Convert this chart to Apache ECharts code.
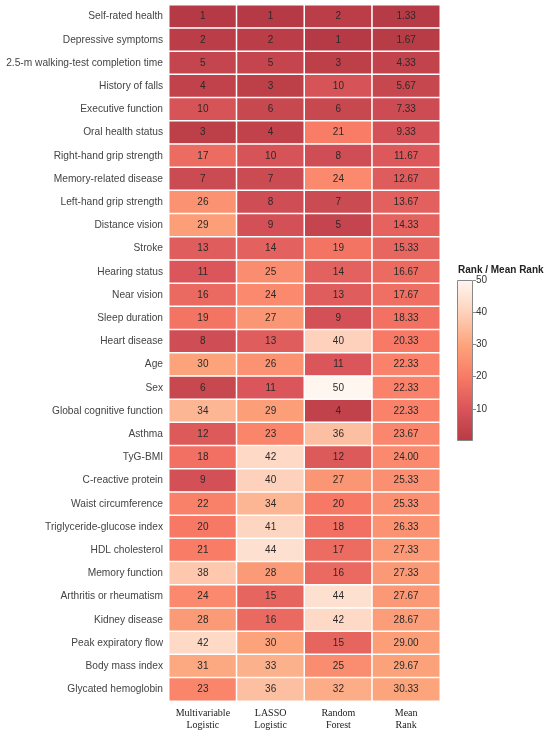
<!DOCTYPE html>
<html>
<head>
<meta charset="utf-8">
<script src="https://cdn.jsdelivr.net/npm/echarts@6/dist/echarts.min.js"></script>
<style>
  html, body { margin: 0; padding: 0; background: #fff; }
  #chart { width: 550px; height: 735px; }
</style>
</head>
<body>
<div id="chart"></div>
<script>
// predictors, top to bottom
const predictors = [
  'Self-rated health', 'Depressive symptoms', '2.5-m walking-test completion time',
  'History of falls', 'Executive function', 'Oral health status',
  'Right-hand grip strength', 'Memory-related disease', 'Left-hand grip strength',
  'Distance vision', 'Stroke', 'Hearing status', 'Near vision', 'Sleep duration',
  'Heart disease', 'Age', 'Sex', 'Global cognitive function', 'Asthma', 'TyG-BMI',
  'C-reactive protein', 'Waist circumference', 'Triglyceride-glucose index',
  'HDL cholesterol', 'Memory function', 'Arthritis or rheumatism', 'Kidney disease',
  'Peak expiratory flow', 'Body mass index', 'Glycated hemoglobin'
];
const methods = ['Multivariable\nLogistic', 'LASSO\nLogistic', 'Random\nForest', 'Mean\nRank'];

const multivariableRank = [1, 2, 5, 4, 10, 3, 17, 7, 26, 29, 13, 11, 16, 19, 8, 30, 6, 34, 12, 18, 9, 22, 20, 21, 38, 24, 28, 42, 31, 23];
const lassoRank = [1, 2, 5, 3, 6, 4, 10, 7, 8, 9, 14, 25, 24, 27, 13, 26, 11, 29, 23, 42, 40, 34, 41, 44, 28, 15, 16, 30, 33, 36];
const forestRank = [2, 1, 3, 10, 6, 21, 8, 24, 7, 5, 19, 14, 13, 9, 40, 11, 50, 4, 36, 12, 27, 20, 18, 17, 16, 44, 42, 15, 25, 32];
const meanRank = [1.33, 1.67, 4.33, 5.67, 7.33, 9.33, 11.67, 12.67, 13.67, 14.33, 15.33, 16.67, 17.67, 18.33, 20.33, 22.33, 22.33, 22.33, 23.67, 24.00, 25.33, 25.33, 26.33, 27.33, 27.33, 27.67, 28.67, 29.00, 29.67, 30.33];

const rankMin = 1;
const rankMax = 50;
const colorbarTicks = [10, 20, 30, 40, 50];

const palette = ['#b63a45', '#d9555a', '#f97a66', '#fca57c', '#fdd2bc', '#fff6f0'];

const columns = [multivariableRank, lassoRank, forestRank, meanRank];
const cells = [];
columns.forEach((col, x) => {
  col.forEach((v, y) => cells.push([x, y, v]));
});

const chart = echarts.init(document.getElementById('chart'));
chart.setOption({
  animation: false,
  title: {
    text: 'Rank / Mean Rank',
    left: 458,
    top: 265,
    padding: 0,
    textStyle: { fontFamily: 'Liberation Sans', fontSize: 10, fontWeight: 'bold', color: '#222' }
  },
  grid: [
    { left: 169, right: 110, top: 5, bottom: 34, outerBoundsMode: 'none', containLabel: false },
    { left: 457, top: 280, width: 16, height: 161, outerBoundsMode: 'none', containLabel: false }
  ],
  xAxis: [
    {
      type: 'category', gridIndex: 0, data: methods,
      axisLine: { show: false }, axisTick: { show: false },
      axisLabel: { interval: 0, fontFamily: 'Liberation Serif', fontSize: 10, color: '#222', margin: 6, lineHeight: 12 }
    },
    { type: 'category', gridIndex: 1, data: ['bar'], show: false }
  ],
  yAxis: [
    {
      type: 'category', gridIndex: 0, data: predictors, inverse: true,
      axisLine: { show: false }, axisTick: { show: false },
      axisLabel: { interval: 0, fontFamily: 'Liberation Sans', fontSize: 10.2, color: '#444', margin: 6 }
    },
    {
      type: 'value', gridIndex: 1, position: 'right',
      min: 0, max: rankMax,
      splitLine: { show: false },
      axisLine: { show: false },
      axisTick: { show: true, length: 3, inside: false, customValues: colorbarTicks, lineStyle: { color: '#888' } },
      axisLabel: {
        customValues: colorbarTicks,
        fontFamily: 'Liberation Sans', fontSize: 10, color: '#333', margin: 3
      }
    }
  ],
  visualMap: {
    show: false,
    type: 'continuous',
    min: rankMin,
    max: rankMax,
    seriesIndex: 0,
    inRange: { color: palette }
  },
  series: [
    {
      type: 'heatmap',
      xAxisIndex: 0, yAxisIndex: 0,
      data: cells,
      itemStyle: { borderColor: '#fff', borderWidth: 1.5 },
      label: {
        show: true,
        fontFamily: 'Liberation Sans',
        fontSize: 10,
        color: '#2a2a2a',
        formatter: p => (p.value[0] === 3 ? p.value[2].toFixed(2) : String(p.value[2]))
      },
      emphasis: { disabled: true }
    },
    {
      type: 'bar',
      xAxisIndex: 1, yAxisIndex: 1,
      data: [rankMax],
      barWidth: '100%',
      silent: true,
      itemStyle: {
        borderColor: '#888',
        borderWidth: 1,
        color: new echarts.graphic.LinearGradient(0, 1, 0, 0,
          palette.map((c, i) => ({ offset: i / (palette.length - 1), color: c })))
      }
    }
  ]
});
</script>
</body>
</html>
